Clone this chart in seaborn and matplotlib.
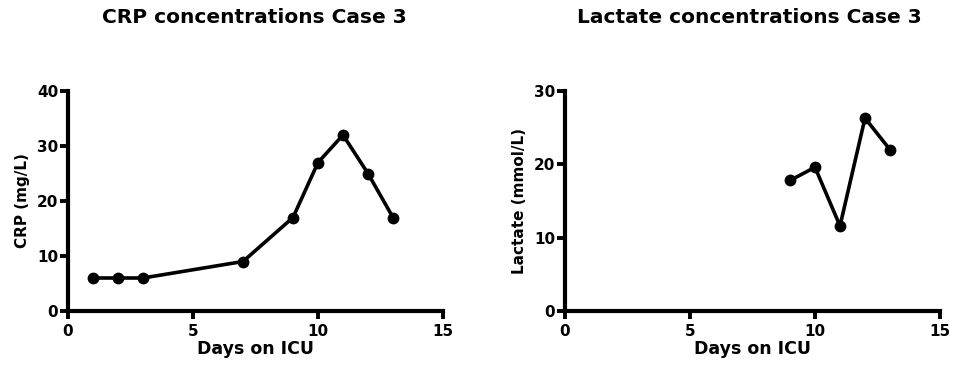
import matplotlib
matplotlib.use("Agg")
import matplotlib.pyplot as plt
import seaborn as sns
import pandas as pd

crp_days = [1, 2, 3, 7, 9, 10, 11, 12, 13]
crp_values = [6, 6, 6, 9, 17, 27, 32, 25, 17]
lac_days = [9, 10, 11, 12, 13]
lac_values = [17.8, 19.6, 11.6, 26.3, 22.0]

sns.set_theme(style="ticks")
plt.rcParams['font.family'] = ['DejaVu Sans']
plt.rcParams['font.weight'] = 'bold'
plt.rcParams['text.color'] = 'black'
plt.rcParams['axes.labelcolor'] = 'black'
plt.rcParams['xtick.color'] = 'black'
plt.rcParams['ytick.color'] = 'black'

W, H = 957, 366
fig = plt.figure(figsize=(W / 100, H / 100), dpi=100)
ax1 = fig.add_axes([68 / W, 55 / H, 375 / W, 220 / H])
ax2 = fig.add_axes([565 / W, 55 / H, 375 / W, 220 / H])

df1 = pd.DataFrame({"day": crp_days, "val": crp_values})
df2 = pd.DataFrame({"day": lac_days, "val": lac_values})

panels = [
    (ax1, df1, "CRP concentrations Case 3", "CRP (mg/L)", 40, [0, 10, 20, 30, 40], 254),
    (ax2, df2, "Lactate concentrations Case 3", "Lactate (mmol/L)", 30, [0, 10, 20, 30], 749),
]
for ax, df, title, ylabel, ymax, yticks, tx in panels:
    sns.lineplot(data=df, x="day", y="val", ax=ax, color="black", linewidth=2.6,
                 marker="o", markersize=8.5, markeredgewidth=0, clip_on=False)
    ax.set_xlim(0, 15)
    ax.set_ylim(0, ymax)
    ax.set_xticks([0, 5, 10, 15])
    ax.set_yticks(yticks)
    ax.set_xlabel("Days on ICU", fontsize=12.5, fontweight="bold", labelpad=1, color="black")
    ax.set_ylabel(ylabel, fontsize=11, fontweight="bold", color="black")
    ax.yaxis.set_label_coords(-0.10, 0.5)
    fig.text(tx / W, 1 - 23 / H, title, fontsize=14.5, fontweight="bold",
             ha="center", va="baseline", color="black")
    for s in ["top", "right"]:
        ax.spines[s].set_visible(False)
    for s in ["left", "bottom"]:
        ax.spines[s].set_linewidth(3.0)
        ax.spines[s].set_color("black")
        ax.spines[s].set_capstyle("projecting")
    ax.tick_params(direction="out", length=5.5, width=2.8, colors="black",
                   labelcolor="black", labelsize=11)
    ax.tick_params(axis="x", pad=3.5)
    ax.tick_params(axis="y", pad=1.5)
    for lab in ax.get_xticklabels() + ax.get_yticklabels():
        lab.set_fontweight("bold")

fig.savefig("out.png", dpi=100)
